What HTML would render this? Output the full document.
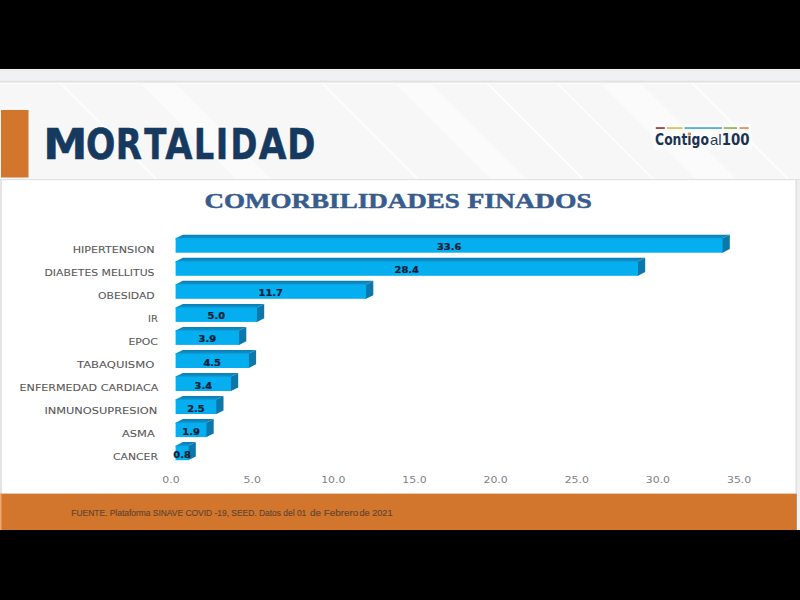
<!DOCTYPE html>
<html><head><meta charset="utf-8">
<style>
html,body{margin:0;padding:0;background:#000;width:800px;height:600px;overflow:hidden}
svg{display:block}
</style></head>
<body>
<svg width="800" height="600" viewBox="0 0 800 600">
<defs><linearGradient id="gtop" x1="0" y1="0" x2="0" y2="1"><stop offset="0" stop-color="#0a7db2"/><stop offset="0.75" stop-color="#0f92cc"/><stop offset="1" stop-color="#0f92cc"/></linearGradient></defs>
<rect x="0" y="0" width="800" height="600" fill="#000"/>
<rect x="0" y="69" width="800" height="14" fill="#f0f1f3"/>
<rect x="0" y="69" width="800" height="1" fill="#f6f6f8"/>
<rect x="0" y="70" width="800" height="1" fill="#e9eaec"/>
<rect x="0" y="80" width="800" height="1" fill="#ebebed"/>
<rect x="0" y="81" width="800" height="1.5" fill="#e3e3e4"/>
<rect x="0" y="83" width="800" height="97" fill="#f7f7f7"/>
<rect x="0" y="83" width="800" height="1" fill="#fdfdfd"/>
<g fill="#fbfbfb">
<polygon points="140,83 175,83 272,180 237,180"/>
<polygon points="395,83 430,83 527,180 492,180"/>
<polygon points="600,83 640,83 737,180 697,180"/>
</g>
<g stroke="#ffffff" stroke-width="1.6" opacity="0.95">
<line x1="60" y1="83" x2="157" y2="180"/>
<line x1="322" y1="83" x2="419" y2="180"/>
<line x1="487" y1="83" x2="584" y2="180"/>
<line x1="557" y1="83" x2="654" y2="180"/>
<line x1="692" y1="83" x2="789" y2="180"/>
</g>
<rect x="1" y="110" width="27.5" height="67.5" fill="#d2752d"/>
<g font-family="DejaVu Sans Condensed, DejaVu Sans, sans-serif" font-weight="bold" font-size="42.6" fill="#163960" stroke="#163960" stroke-width="0.5">
<text y="159.2"><tspan x="43.20" textLength="44.14" lengthAdjust="spacingAndGlyphs">M</tspan><tspan x="86.05" textLength="29.36" lengthAdjust="spacingAndGlyphs">O</tspan><tspan x="115.80" textLength="26.15" lengthAdjust="spacingAndGlyphs">R</tspan><tspan x="144.25" textLength="22.16" lengthAdjust="spacingAndGlyphs">T</tspan><tspan x="165.25" textLength="27.23" lengthAdjust="spacingAndGlyphs">A</tspan><tspan x="194.01" textLength="20.12" lengthAdjust="spacingAndGlyphs">L</tspan><tspan x="215.83" textLength="12.49" lengthAdjust="spacingAndGlyphs">I</tspan><tspan x="230.44" textLength="26.89" lengthAdjust="spacingAndGlyphs">D</tspan><tspan x="258.75" textLength="27.73" lengthAdjust="spacingAndGlyphs">A</tspan><tspan x="287.31" textLength="28.09" lengthAdjust="spacingAndGlyphs">D</tspan></text>
</g>
<rect x="653.5" y="124" width="98" height="25.5" fill="#fcfcfc"/>
<rect x="655.8" y="127.2" width="9" height="1.7" fill="#98343a"/>
<rect x="666.8" y="127.2" width="15.8" height="1.7" fill="#dcbc5c"/>
<rect x="684.5" y="127.2" width="37.4" height="1.7" fill="#4aa8d4"/>
<rect x="723.7" y="127.2" width="13.3" height="1.7" fill="#8fb450"/>
<rect x="739.5" y="127.2" width="9.2" height="1.7" fill="#d98e55"/>
<g fill="#1c3452" font-size="15">
<text transform="translate(655.05,144.7) scale(0.918,1)" font-family="DejaVu Sans Condensed, sans-serif" font-weight="bold">Contigo</text>
<text transform="translate(709.9,144.7)" font-family="Liberation Sans, sans-serif" fill="#2a3e58">al</text>
<text transform="translate(721.8,144.7) scale(0.99,1)" font-family="DejaVu Sans Condensed, sans-serif" font-weight="bold">100</text>
</g>
<rect x="687.8" y="132.6" width="2.8" height="2.4" fill="#d48a52"/>
<rect x="0" y="179" width="800" height="315" fill="#f7f7f7"/>
<rect x="0" y="179" width="800" height="1.2" fill="#e2e2e2"/>
<rect x="2" y="180.5" width="793.5" height="314" fill="#ffffff"/>
<rect x="795.5" y="180" width="1.5" height="314" fill="#e0e0e0"/>
<rect x="797" y="180" width="3" height="314" fill="#efefef"/>
<rect x="0" y="180" width="2" height="314" fill="#e3e3e3"/>
<g font-family="Liberation Serif, serif" font-weight="bold" font-size="21.5" fill="#385c8c" stroke="#385c8c" stroke-width="0.5">
<text y="207.7"><tspan x="204.5" textLength="255.3" lengthAdjust="spacingAndGlyphs">COMORBILIDADES</tspan> <tspan x="467.5" textLength="124.3" lengthAdjust="spacingAndGlyphs">FINADOS</tspan></text>
</g>
<g id="bars">
<polygon points="175.6,239.3 175.6,238.3 182.8,234.7 729.8,234.7 722.6,238.3 722.6,239.3" fill="url(#gtop)"/>
<polygon points="721.6,238.3 722.6,238.3 729.8,234.7 729.8,249.1 722.6,252.7 721.6,252.7" fill="#0b77aa"/>
<rect x="175.6" y="238.3" width="547.0" height="14.4" fill="#05aeef"/>
<polygon points="175.6,262.4 175.6,261.4 182.8,257.8 645.2,257.8 638.0,261.4 638.0,262.4" fill="url(#gtop)"/>
<polygon points="637.0,261.4 638.0,261.4 645.2,257.8 645.2,272.1 638.0,275.8 637.0,275.8" fill="#0b77aa"/>
<rect x="175.6" y="261.4" width="462.4" height="14.4" fill="#05aeef"/>
<polygon points="175.6,285.4 175.6,284.4 182.8,280.8 373.3,280.8 366.1,284.4 366.1,285.4" fill="url(#gtop)"/>
<polygon points="365.1,284.4 366.1,284.4 373.3,280.8 373.3,295.2 366.1,298.8 365.1,298.8" fill="#0b77aa"/>
<rect x="175.6" y="284.4" width="190.5" height="14.4" fill="#05aeef"/>
<polygon points="175.6,308.5 175.6,307.5 182.8,303.9 264.2,303.9 257.0,307.5 257.0,308.5" fill="url(#gtop)"/>
<polygon points="256.0,307.5 257.0,307.5 264.2,303.9 264.2,318.2 257.0,321.9 256.0,321.9" fill="#0b77aa"/>
<rect x="175.6" y="307.5" width="81.4" height="14.4" fill="#05aeef"/>
<polygon points="175.6,331.5 175.6,330.5 182.8,326.9 246.3,326.9 239.1,330.5 239.1,331.5" fill="url(#gtop)"/>
<polygon points="238.1,330.5 239.1,330.5 246.3,326.9 246.3,341.3 239.1,344.9 238.1,344.9" fill="#0b77aa"/>
<rect x="175.6" y="330.5" width="63.5" height="14.4" fill="#05aeef"/>
<polygon points="175.6,354.6 175.6,353.6 182.8,349.9 256.1,349.9 248.9,353.6 248.9,354.6" fill="url(#gtop)"/>
<polygon points="247.9,353.6 248.9,353.6 256.1,349.9 256.1,364.3 248.9,367.9 247.9,367.9" fill="#0b77aa"/>
<rect x="175.6" y="353.6" width="73.3" height="14.4" fill="#05aeef"/>
<polygon points="175.6,377.6 175.6,376.6 182.8,373.0 238.2,373.0 231.0,376.6 231.0,377.6" fill="url(#gtop)"/>
<polygon points="230.0,376.6 231.0,376.6 238.2,373.0 238.2,387.4 231.0,391.0 230.0,391.0" fill="#0b77aa"/>
<rect x="175.6" y="376.6" width="55.4" height="14.4" fill="#05aeef"/>
<polygon points="175.6,400.6 175.6,399.6 182.8,396.0 223.5,396.0 216.3,399.6 216.3,400.6" fill="url(#gtop)"/>
<polygon points="215.3,399.6 216.3,399.6 223.5,396.0 223.5,410.4 216.3,414.0 215.3,414.0" fill="#0b77aa"/>
<rect x="175.6" y="399.6" width="40.7" height="14.4" fill="#05aeef"/>
<polygon points="175.6,423.7 175.6,422.7 182.8,419.1 213.7,419.1 206.5,422.7 206.5,423.7" fill="url(#gtop)"/>
<polygon points="205.5,422.7 206.5,422.7 213.7,419.1 213.7,433.5 206.5,437.1 205.5,437.1" fill="#0b77aa"/>
<rect x="175.6" y="422.7" width="30.9" height="14.4" fill="#05aeef"/>
<polygon points="175.6,446.8 175.6,445.8 182.8,442.1 195.8,442.1 188.6,445.8 188.6,446.8" fill="url(#gtop)"/>
<polygon points="187.6,445.8 188.6,445.8 195.8,442.1 195.8,456.5 188.6,460.1 187.6,460.1" fill="#0b77aa"/>
<rect x="175.6" y="445.8" width="13.0" height="14.4" fill="#05aeef"/>
<text x="449.1" y="250.3" text-anchor="middle" font-family="DejaVu Sans, sans-serif" font-weight="bold" font-size="9" fill="#0c1d33" stroke="#0c1d33" stroke-width="0.25" transform="translate(449.1,0) scale(1.1,1) translate(-449.1,0)">33.6</text>
<text x="72.7" y="253.0" font-family="DejaVu Sans, sans-serif" font-size="8.8" fill="#595959" stroke="#595959" stroke-width="0.08" textLength="81.8" lengthAdjust="spacingAndGlyphs">HIPERTENSION</text>
<text x="406.8" y="273.4" text-anchor="middle" font-family="DejaVu Sans, sans-serif" font-weight="bold" font-size="9" fill="#0c1d33" stroke="#0c1d33" stroke-width="0.25" transform="translate(406.8,0) scale(1.1,1) translate(-406.8,0)">28.4</text>
<text x="44.5" y="276.0" font-family="DejaVu Sans, sans-serif" font-size="8.8" fill="#595959" stroke="#595959" stroke-width="0.08" textLength="110.0" lengthAdjust="spacingAndGlyphs">DIABETES MELLITUS</text>
<text x="270.8" y="296.4" text-anchor="middle" font-family="DejaVu Sans, sans-serif" font-weight="bold" font-size="9" fill="#0c1d33" stroke="#0c1d33" stroke-width="0.25" transform="translate(270.8,0) scale(1.1,1) translate(-270.8,0)">11.7</text>
<text x="98.0" y="299.0" font-family="DejaVu Sans, sans-serif" font-size="8.8" fill="#595959" stroke="#595959" stroke-width="0.08" textLength="56.7" lengthAdjust="spacingAndGlyphs">OBESIDAD</text>
<text x="216.3" y="319.5" text-anchor="middle" font-family="DejaVu Sans, sans-serif" font-weight="bold" font-size="9" fill="#0c1d33" stroke="#0c1d33" stroke-width="0.25" transform="translate(216.3,0) scale(1.1,1) translate(-216.3,0)">5.0</text>
<text x="148.0" y="322.1" font-family="DejaVu Sans, sans-serif" font-size="8.8" fill="#595959" stroke="#595959" stroke-width="0.08" textLength="9.8" lengthAdjust="spacingAndGlyphs">IR</text>
<text x="207.3" y="342.5" text-anchor="middle" font-family="DejaVu Sans, sans-serif" font-weight="bold" font-size="9" fill="#0c1d33" stroke="#0c1d33" stroke-width="0.25" transform="translate(207.3,0) scale(1.1,1) translate(-207.3,0)">3.9</text>
<text x="128.4" y="345.1" font-family="DejaVu Sans, sans-serif" font-size="8.8" fill="#595959" stroke="#595959" stroke-width="0.08" textLength="29.5" lengthAdjust="spacingAndGlyphs">EPOC</text>
<text x="212.2" y="365.6" text-anchor="middle" font-family="DejaVu Sans, sans-serif" font-weight="bold" font-size="9" fill="#0c1d33" stroke="#0c1d33" stroke-width="0.25" transform="translate(212.2,0) scale(1.1,1) translate(-212.2,0)">4.5</text>
<text x="77.0" y="368.1" font-family="DejaVu Sans, sans-serif" font-size="8.8" fill="#595959" stroke="#595959" stroke-width="0.08" textLength="77.3" lengthAdjust="spacingAndGlyphs">TABAQUISMO</text>
<text x="203.3" y="388.6" text-anchor="middle" font-family="DejaVu Sans, sans-serif" font-weight="bold" font-size="9" fill="#0c1d33" stroke="#0c1d33" stroke-width="0.25" transform="translate(203.3,0) scale(1.1,1) translate(-203.3,0)">3.4</text>
<text x="19.6" y="391.1" font-family="DejaVu Sans, sans-serif" font-size="8.8" fill="#595959" stroke="#595959" stroke-width="0.08" textLength="138.7" lengthAdjust="spacingAndGlyphs">ENFERMEDAD CARDIACA</text>
<text x="195.9" y="411.6" text-anchor="middle" font-family="DejaVu Sans, sans-serif" font-weight="bold" font-size="9" fill="#0c1d33" stroke="#0c1d33" stroke-width="0.25" transform="translate(195.9,0) scale(1.1,1) translate(-195.9,0)">2.5</text>
<text x="44.4" y="414.1" font-family="DejaVu Sans, sans-serif" font-size="8.8" fill="#595959" stroke="#595959" stroke-width="0.08" textLength="112.9" lengthAdjust="spacingAndGlyphs">INMUNOSUPRESION</text>
<text x="191.1" y="434.7" text-anchor="middle" font-family="DejaVu Sans, sans-serif" font-weight="bold" font-size="9" fill="#0c1d33" stroke="#0c1d33" stroke-width="0.25" transform="translate(191.1,0) scale(1.1,1) translate(-191.1,0)">1.9</text>
<text x="122.0" y="437.2" font-family="DejaVu Sans, sans-serif" font-size="8.8" fill="#595959" stroke="#595959" stroke-width="0.08" textLength="32.7" lengthAdjust="spacingAndGlyphs">ASMA</text>
<text x="182.1" y="457.8" text-anchor="middle" font-family="DejaVu Sans, sans-serif" font-weight="bold" font-size="9" fill="#0c1d33" stroke="#0c1d33" stroke-width="0.25" transform="translate(182.1,0) scale(1.1,1) translate(-182.1,0)">0.8</text>
<text x="113.0" y="460.2" font-family="DejaVu Sans, sans-serif" font-size="8.8" fill="#595959" stroke="#595959" stroke-width="0.08" textLength="44.9" lengthAdjust="spacingAndGlyphs">CANCER</text>
<text x="171.0" y="482.8" text-anchor="middle" font-family="DejaVu Sans, sans-serif" font-size="8.6" fill="#7f7f7f" transform="translate(171.0,0) scale(1.27,1) translate(-171.0,0)">0.0</text>
<text x="252.2" y="482.8" text-anchor="middle" font-family="DejaVu Sans, sans-serif" font-size="8.6" fill="#7f7f7f" transform="translate(252.2,0) scale(1.27,1) translate(-252.2,0)">5.0</text>
<text x="333.3" y="482.8" text-anchor="middle" font-family="DejaVu Sans, sans-serif" font-size="8.6" fill="#7f7f7f" transform="translate(333.3,0) scale(1.27,1) translate(-333.3,0)">10.0</text>
<text x="414.5" y="482.8" text-anchor="middle" font-family="DejaVu Sans, sans-serif" font-size="8.6" fill="#7f7f7f" transform="translate(414.5,0) scale(1.27,1) translate(-414.5,0)">15.0</text>
<text x="495.6" y="482.8" text-anchor="middle" font-family="DejaVu Sans, sans-serif" font-size="8.6" fill="#7f7f7f" transform="translate(495.6,0) scale(1.27,1) translate(-495.6,0)">20.0</text>
<text x="576.8" y="482.8" text-anchor="middle" font-family="DejaVu Sans, sans-serif" font-size="8.6" fill="#7f7f7f" transform="translate(576.8,0) scale(1.27,1) translate(-576.8,0)">25.0</text>
<text x="657.9" y="482.8" text-anchor="middle" font-family="DejaVu Sans, sans-serif" font-size="8.6" fill="#7f7f7f" transform="translate(657.9,0) scale(1.27,1) translate(-657.9,0)">30.0</text>
<text x="739.1" y="482.8" text-anchor="middle" font-family="DejaVu Sans, sans-serif" font-size="8.6" fill="#7f7f7f" transform="translate(739.1,0) scale(1.27,1) translate(-739.1,0)">35.0</text>
</g>
<rect x="0" y="493.6" width="796.5" height="36.4" fill="#d2752d"/>
<rect x="0" y="494" width="1.5" height="36" fill="#eea872"/>
<rect x="796.5" y="494" width="3.5" height="36" fill="#f4f1ee"/>
<g font-family="Liberation Sans, sans-serif" fill="#634530" stroke="#634530" stroke-width="0.15">
<text y="515.8" font-size="8.7"><tspan x="71.3" textLength="235" lengthAdjust="spacingAndGlyphs">FUENTE. Plataforma SINAVE COVID -19, SEED. Datos del 01</tspan> <tspan x="310" font-size="9.8" textLength="48.3" lengthAdjust="spacingAndGlyphs">de Febrero</tspan> <tspan x="359.5" textLength="33" lengthAdjust="spacingAndGlyphs">de 2021</tspan></text>
</g>
</svg>
</body></html>
